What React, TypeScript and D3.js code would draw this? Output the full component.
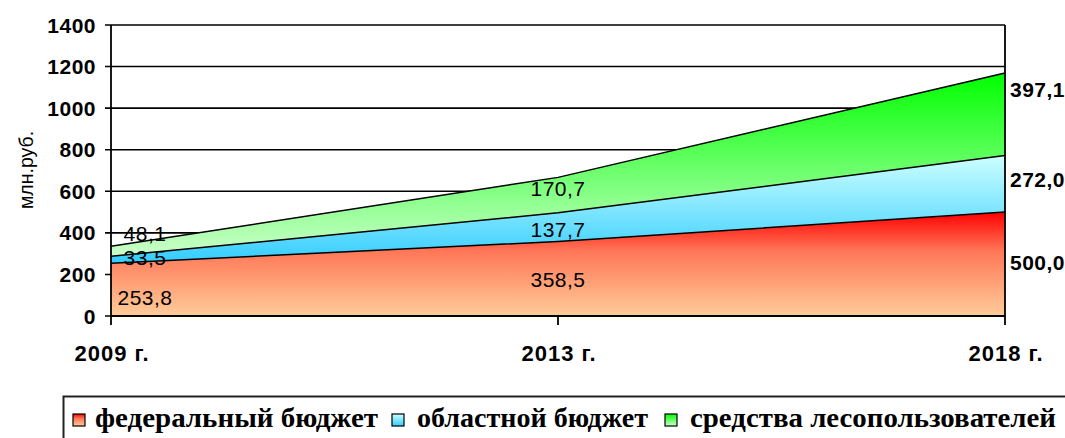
import React from 'react';
import * as d3 from 'd3';

const years = ['2009 г.', '2013 г.', '2018 г.'];
const federal = [253.8, 358.5, 500.0];
const regional = [33.5, 137.7, 272.0];
const users = [48.1, 170.7, 397.1];
const seriesNames = ['федеральный бюджет', 'областной бюджет', 'средства лесопользователей'];
const yTicks = [0, 200, 400, 600, 800, 1000, 1200, 1400];

// label nudges (px) so the numbers sit where the original puts them
const labelNudge = [
    [8, 1, -2],
    [-2, 2, -4],
    [-18, -7, -25],
];

const gradients = [
    { id: 'gFed', stops: [['0%', '#ff0000'], ['38%', '#ff7858'], ['100%', '#ffcc99']] },
    { id: 'gReg', stops: [['0%', '#ccffff'], ['100%', '#33ccff']] },
    { id: 'gUse', stops: [['0%', '#00ff00'], ['100%', '#ccffcc']] },
];

const fmt = (v: number) => v.toFixed(1).replace('.', ',');

export default function App() {
    const width = 1065;
    const height = 438;
    const margin = { top: 25, right: 60, bottom: 122, left: 111 };

    const x = d3.scalePoint<string>()
        .domain(years)
        .range([margin.left, width - margin.right]);

    const y = d3.scaleLinear()
        .domain([0, 1400])
        .range([height - margin.bottom, margin.top]);

    const rows = years.map((yr, i) => ({ year: yr, f: federal[i], r: regional[i], u: users[i] }));
    const stack = d3.stack<typeof rows[0]>().keys(['f', 'r', 'u']);
    const layers = stack(rows);

    const area = d3.area<d3.SeriesPoint<typeof rows[0]>>()
        .x(d => x(d.data.year)!)
        .y0(d => y(d[0]))
        .y1(d => y(d[1]));

    const topLine = d3.line<d3.SeriesPoint<typeof rows[0]>>()
        .x(d => x(d.data.year)!)
        .y(d => y(d[1]));

    const x0 = x(years[0])!;
    const x1 = x(years[years.length - 1])!;
    const axisFont = '"Liberation Sans", Arial, sans-serif';

    // legend layout
    const legendItems = [
        { sq: 73, tx: 95, len: 283 },
        { sq: 392, tx: 417, len: 231 },
        { sq: 665, tx: 690, len: 366 },
    ];

    return (
        <div style={{ position: 'absolute', left: 0, top: 0 }}>
            <svg width={width} height={height} style={{ display: 'block', background: '#fff' }}>
                <defs>
                    {gradients.map(g => (
                        <linearGradient key={g.id} id={g.id} x1="0" y1="0" x2="0" y2="1">
                            {g.stops.map(s => <stop key={s[0]} offset={s[0]} stopColor={s[1]} />)}
                        </linearGradient>
                    ))}
                </defs>

                {/* grid */}
                {yTicks.map(t => (
                    <line key={t} x1={x0 - 6} x2={x1} y1={y(t)} y2={y(t)} stroke="#000" strokeWidth={1.6} />
                ))}

                {/* stacked areas */}
                {layers.map((layer, i) => (
                    <path key={i} d={area(layer)!} fill={`url(#${gradients[i].id})`} />
                ))}
                {layers.map((layer, i) => (
                    <path key={'l' + i} d={topLine(layer)!} fill="none" stroke="#000" strokeWidth={1.5} />
                ))}

                {/* axes */}
                <line x1={x0} x2={x0} y1={y(1400)} y2={y(0) + 9} stroke="#000" strokeWidth={1.8} />
                <line x1={x1} x2={x1} y1={y(1400)} y2={y(0) + 9} stroke="#000" strokeWidth={1.8} />
                <line x1={x0} x2={x1} y1={y(0)} y2={y(0)} stroke="#000" strokeWidth={1.8} />
                <line x1={x(years[1])!} x2={x(years[1])!} y1={y(0)} y2={y(0) + 9} stroke="#000" strokeWidth={1.8} />

                {yTicks.map(t => (
                    <text key={'t' + t} x={96} y={y(t)} dy="0.36em" textAnchor="end"
                        fontFamily={axisFont} fontWeight="bold" fontSize={21} letterSpacing={0.5}>{t}</text>
                ))}

                {years.map(yr => (
                    <text key={yr} x={x(yr)! + 1} y={361} textAnchor="middle"
                        fontFamily={axisFont} fontWeight="bold" fontSize={22} letterSpacing={1}>{yr}</text>
                ))}

                <text transform={`translate(33,170) rotate(-90)`} textAnchor="middle"
                    fontFamily={axisFont} fontSize={19.5}>млн.руб.</text>

                {/* data labels */}
                {layers.map((layer, i) => layer.map((d, j) => {
                    const mid = y((d[0] + d[1]) / 2) + labelNudge[i][j];
                    const last = j === years.length - 1;
                    const px = j === 0 ? x(d.data.year)! + 34 : last ? x(d.data.year)! + 5 : x(d.data.year)!;
                    return (
                        <text key={`d${i}${j}`} x={px} y={mid} dy="0.36em"
                            textAnchor={last ? 'start' : 'middle'}
                            fontFamily={axisFont} fontSize={21} letterSpacing={0.5}
                            fontWeight={last ? 'bold' : 'normal'}>
                            {fmt(d[1] - d[0])}
                        </text>
                    );
                }))}

                {/* legend */}
                <rect x={63.5} y={396.5} width={1100} height={60} fill="#fff" stroke="#222" strokeWidth={2} />
                {seriesNames.map((name, i) => (
                    <g key={name}>
                        <rect x={legendItems[i].sq} y={414} width={12} height={12}
                            fill={`url(#${gradients[i].id})`} stroke="#000" strokeWidth={1.2} />
                        <text x={legendItems[i].tx} y={427} fontFamily='"Liberation Serif", "Times New Roman", serif'
                            fontWeight="bold" fontSize={27} textLength={legendItems[i].len}
                            lengthAdjust="spacingAndGlyphs">{name}</text>
                    </g>
                ))}
            </svg>
        </div>
    );
}
